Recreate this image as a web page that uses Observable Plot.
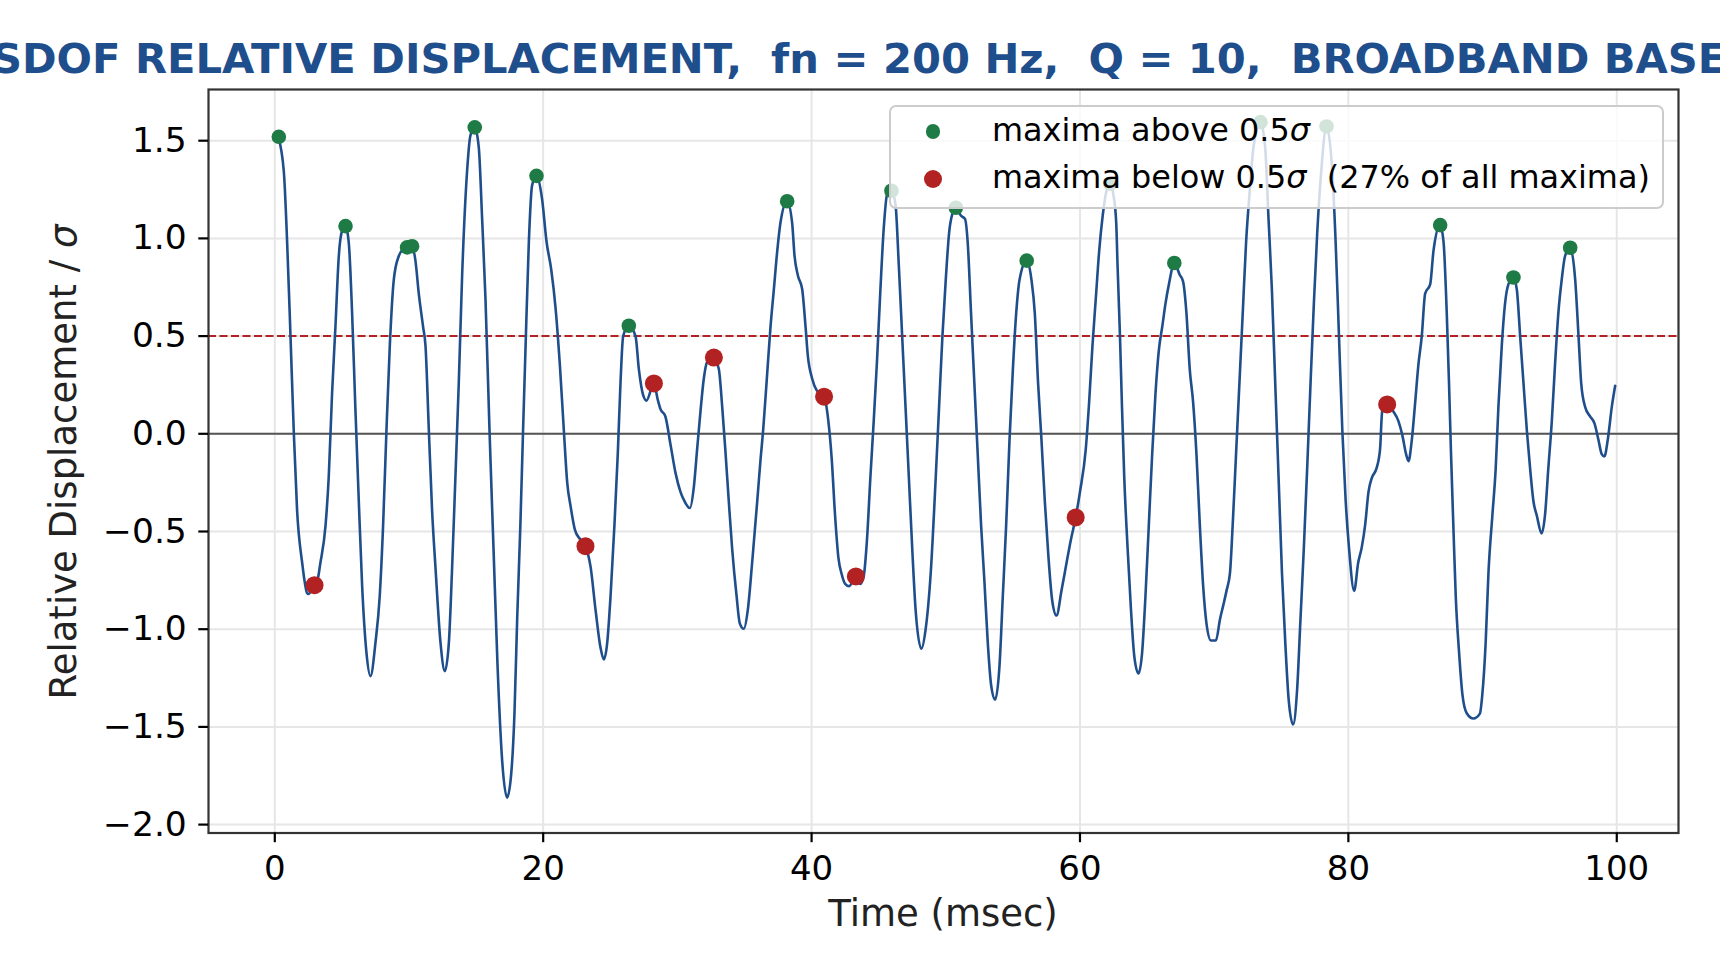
<!DOCTYPE html>
<html>
<head>
<meta charset="utf-8">
<script src="https://cdn.jsdelivr.net/npm/d3@7"></script>
<script src="https://cdn.jsdelivr.net/npm/@observablehq/plot@0.6"></script>
<style>
  html, body { margin: 0; padding: 0; background: white; }
  #fig { position: relative; width: 1720px; height: 980px; overflow: hidden; background: white; font-family: "DejaVu Sans", sans-serif; }
  #title { position: absolute; left: 938px; top: 34px; transform: translateX(-50%); white-space: pre; font-weight: bold; font-size: 41.7px; line-height: normal; color: #1f4e8c; }
  #ylabel { position: absolute; left: 62.5px; top: 461.5px; transform: translate(-50%, -50%) rotate(-90deg); white-space: pre; font-size: 37px; line-height: normal; color: #222; }
  #xlabel { position: absolute; left: 943px; top: 892px; transform: translateX(-50%); white-space: pre; font-size: 37px; line-height: normal; color: #222; }
  #legend { position: absolute; left: 889px; top: 105px; width: 775px; height: 104px; box-sizing: border-box; border: 2px solid #cccccc; border-radius: 7px; background: rgba(255,255,255,0.8); }
  .lrow { position: absolute; white-space: pre; font-size: 31.9px; line-height: normal; color: #000; }
  .lmark { position: absolute; border-radius: 50%; }
</style>
</head>
<body>
<div id="fig">
  <div id="title"></div>
  <div id="ylabel"></div>
  <div id="xlabel"></div>
</div>
<script>
// ---- data ----
const titleText = "SDOF RELATIVE DISPLACEMENT,  fn = 200 Hz,  Q = 10,  BROADBAND BASE INPUT";
const xLabelText = "Time (msec)";
const yLabelText = "Relative Displacement / ";
const legendAbove = "maxima above 0.5";
const legendBelow = "maxima below 0.5";
const legendBelowNote = "  (27% of all maxima)";

const xTicks = [0, 20, 40, 60, 80, 100];
const yTicks = [-2.0, -1.5, -1.0, -0.5, 0.0, 0.5, 1.0, 1.5];
const threshold = 0.5;

const timeMs = [
  0.25,0.67,0.92,1.17,1.42,1.66,2.04,2.41,2.5,2.96,3.1,3.4,3.78,4.02,4.27,4.52,4.77,5.02,5.27,5.51,
  5.76,6.0,6.26,6.51,6.83,7.13,7.5,7.82,8.07,8.32,8.57,8.87,9.24,9.61,9.86,10.05,10.23,10.48,10.73,11.05,
  11.23,11.48,11.72,11.97,12.35,12.67,12.97,13.2,13.46,13.71,13.96,14.33,14.58,14.9,15.2,15.45,15.7,16.0,16.3,16.6,
  16.94,17.31,17.61,17.86,18.06,18.3,18.5,18.68,18.93,19.17,19.5,19.92,20.25,20.6,20.92,21.24,21.54,21.79,22.04,22.36,
  22.75,23.15,23.53,23.9,24.27,24.52,24.77,25.02,25.31,25.56,25.76,25.96,26.38,26.88,27.13,27.45,27.7,28.25,28.54,28.74,
  29.1,29.49,29.86,30.23,30.53,30.93,31.23,31.47,31.72,31.97,32.22,32.72,33.09,33.34,33.59,33.83,34.08,34.41,34.65,34.95,
  35.25,35.57,35.95,36.2,36.39,36.69,36.94,37.19,37.44,37.68,38.18,38.55,38.73,38.98,39.3,39.55,39.72,40.04,40.38,40.93,
  41.25,41.5,41.75,42.0,42.25,42.5,42.8,43.3,43.63,43.88,44.13,44.38,44.63,44.88,45.13,45.38,45.63,45.95,46.25,46.5,
  46.75,47.0,47.25,47.5,47.75,48.18,48.5,48.88,49.25,49.5,49.75,50.0,50.25,50.5,50.75,51.13,51.43,51.63,51.88,52.13,
  52.38,52.63,52.88,53.13,53.38,53.68,54.0,54.25,54.5,54.75,55.0,55.25,55.5,56.03,56.38,56.63,56.88,57.13,57.38,57.63,
  57.93,58.25,58.63,59.0,59.33,59.68,60.0,60.43,60.68,60.93,61.18,61.43,61.7,62.0,62.25,62.5,62.7,62.8,62.98,63.13,
  63.3,63.55,63.8,64.05,64.36,64.63,64.88,65.13,65.38,65.63,65.88,66.13,66.38,66.63,67.03,67.43,67.68,67.93,68.18,68.43,
  68.68,68.93,69.18,69.43,69.76,70.13,70.43,70.68,70.93,71.18,71.38,71.63,71.88,72.13,72.38,72.63,72.93,73.45,73.8,74.05,
  74.3,74.55,74.8,75.05,75.3,75.55,75.88,76.18,76.43,76.68,76.93,77.18,77.43,77.68,77.98,78.37,78.8,79.05,79.3,79.55,
  79.8,80.05,80.43,80.73,81.0,81.25,81.5,81.75,82.1,82.36,82.52,82.89,83.35,83.73,84.02,84.3,84.48,84.73,84.98,85.22,
  85.47,85.72,86.1,86.34,86.84,87.09,87.33,87.5,87.65,87.82,88.0,88.25,88.5,88.82,89.32,89.8,89.98,90.23,90.44,90.73,
  90.98,91.18,91.43,91.68,91.93,92.3,92.55,92.8,93.05,93.3,93.54,93.79,94.04,94.4,94.65,94.9,95.16,95.4,95.65,95.9,
  96.15,96.53,96.9,97.15,97.35,97.64,98.0,98.34,98.63,98.88,99.08,99.33,99.63,99.88
];
const displacement = [
  1.52,1.345,0.98,0.5,0.0,-0.39,-0.66,-0.816,-0.82,-0.775,-0.77,-0.66,-0.47,-0.22,0.21,0.55,0.91,1.04,1.063,0.98,
  0.62,0.14,-0.345,-0.78,-1.12,-1.24,-1.07,-0.83,-0.47,0.017,0.45,0.79,0.91,0.947,0.954,0.948,0.96,0.886,0.717,0.548,
  0.45,0.017,-0.39,-0.68,-1.07,-1.215,-1.07,-0.71,-0.22,0.26,0.81,1.345,1.527,1.568,1.466,1.10,0.69,0.017,-0.59,-1.19,
  -1.67,-1.862,-1.746,-1.43,-0.95,-0.466,0.017,0.43,0.98,1.27,1.32,1.20,0.983,0.84,0.645,0.355,0.017,-0.25,-0.37,-0.49,
  -0.54,-0.575,-0.68,-0.90,-1.094,-1.155,-1.07,-0.83,-0.466,-0.10,0.26,0.50,0.553,0.50,0.33,0.198,0.17,0.258,0.174,0.126,
  0.09,-0.056,-0.2,-0.297,-0.345,-0.38,-0.27,-0.08,0.114,0.283,0.367,0.39,0.33,0.138,-0.10,-0.345,-0.587,-0.83,-0.97,-0.998,
  -0.90,-0.66,-0.345,-0.128,0.017,0.307,0.548,0.74,0.935,1.08,1.19,1.08,0.91,0.81,0.74,0.548,0.40,0.283,0.222,0.19,
  0.065,-0.128,-0.418,-0.635,-0.72,-0.768,-0.78,-0.73,-0.768,-0.73,-0.54,-0.225,0.065,0.38,0.74,1.055,1.225,1.244,1.176,0.862,
  0.5,0.138,-0.225,-0.587,-0.90,-1.10,-1.0,-0.71,-0.225,0.138,0.50,0.79,1.03,1.128,1.157,1.116,1.10,0.983,0.62,0.258,
  -0.104,-0.466,-0.756,-1.07,-1.287,-1.36,-1.19,-0.83,-0.466,-0.03,0.33,0.62,0.79,0.886,0.79,0.62,0.258,-0.03,-0.345,-0.61,
  -0.853,-0.93,-0.80,-0.66,-0.54,-0.428,-0.297,-0.08,0.16,0.45,0.693,0.935,1.12,1.25,1.28,1.22,1.08,0.862,0.50,0.138,
  -0.225,-0.587,-0.90,-1.14,-1.227,-1.12,-0.83,-0.466,-0.104,0.21,0.43,0.548,0.67,0.766,0.874,0.814,0.78,0.62,0.33,0.162,
  -0.104,-0.466,-0.78,-0.973,-1.058,-1.058,-0.95,-0.877,-0.80,-0.71,-0.466,-0.104,0.258,0.62,0.983,1.225,1.466,1.595,1.466,1.10,
  0.74,0.258,-0.225,-0.71,-1.07,-1.36,-1.488,-1.31,-0.95,-0.587,-0.176,0.258,0.67,1.03,1.345,1.573,1.345,0.983,0.50,0.017,
  -0.345,-0.587,-0.804,-0.66,-0.58,-0.466,-0.297,-0.225,-0.176,-0.08,0.114,0.15,0.114,0.065,-0.007,-0.104,-0.14,-0.03,0.162,0.355,
  0.50,0.717,0.766,0.935,1.068,0.983,0.62,0.258,-0.104,-0.466,-0.83,-1.12,-1.335,-1.43,-1.457,-1.432,-1.335,-1.07,-0.71,-0.418,
  -0.176,0.138,0.45,0.67,0.766,0.80,0.74,0.50,0.258,0.017,-0.176,-0.345,-0.418,-0.51,-0.418,-0.176,0.065,0.355,0.62,0.79,
  0.91,0.952,0.79,0.5,0.258,0.138,0.09,0.053,-0.03,-0.104,-0.116,-0.03,0.138,0.246
];

const aboveTime  = [0.3, 5.27, 9.86, 10.23, 14.9, 19.5, 26.38, 38.18, 45.95, 50.75, 56.03, 62.25, 67.03, 73.45, 78.37, 86.84, 92.3, 96.53];
const aboveValue = [1.52, 1.063, 0.954, 0.96, 1.568, 1.32, 0.553, 1.19, 1.244, 1.157, 0.886, 1.28, 0.874, 1.595, 1.573, 1.068, 0.80, 0.952];
const belowTime  = [2.96, 23.15, 28.25, 32.72, 40.93, 43.3, 59.68, 82.89];
const belowValue = [-0.775, -0.575, 0.258, 0.39, 0.19, -0.73, -0.428, 0.15];

// ---- colours ----
const lineColor = "#1f4e8c";
const greenColor = "#1e7b45";
const redColor = "#b22222";

// ---- build ----
const series = timeMs.map((t, i) => ({t, v: displacement[i]}));
const above = aboveTime.map((t, i) => ({t, v: aboveValue[i]}));
const below = belowTime.map((t, i) => ({t, v: belowValue[i]}));

const chart = Plot.plot({
  width: 1720,
  height: 900,
  marginLeft: 208,
  marginRight: 42,
  marginTop: 9,
  marginBottom: 147.5,
  x: {domain: [-4.94, 104.6]},
  y: {domain: [-2.043, 1.762]},
  style: {fontFamily: "DejaVu Sans", background: "white", color: "black"},
  marks: [
    Plot.gridX(xTicks, {stroke: "#e6e6e6", strokeOpacity: 1, strokeWidth: 2}),
    Plot.gridY(yTicks, {stroke: "#e6e6e6", strokeOpacity: 1, strokeWidth: 2}),
    Plot.ruleY([0], {stroke: "#555555", strokeWidth: 2}),
    Plot.ruleY([threshold], {stroke: redColor, strokeWidth: 2, strokeDasharray: "8,3.5"}),
    Plot.line(series, {x: "t", y: "v", stroke: lineColor, strokeWidth: 2.6, curve: "monotone-x"}),
    Plot.dot(above, {x: "t", y: "v", r: 7.3, fill: greenColor, stroke: "none"}),
    Plot.dot(below, {x: "t", y: "v", r: 9, fill: redColor, stroke: "none"}),
    Plot.frame({stroke: "#333333", strokeWidth: 2.2}),
    Plot.axisX(xTicks, {tickSize: 9.7, tickPadding: 13, fontSize: 34, strokeWidth: 2.2, label: null, tickFormat: d3.format("d"), color: "black"}),
    Plot.axisY(yTicks, {tickSize: 9.7, tickPadding: 12, fontSize: 34.5, strokeWidth: 2.2, label: null, tickFormat: d3.format(".1f"), color: "black"})
  ]
});
chart.style.position = "absolute";
chart.style.left = "0px";
chart.style.top = "80px";
const fig = document.getElementById("fig");
fig.insertBefore(chart, fig.firstChild);

document.getElementById("title").textContent = titleText;
document.getElementById("xlabel").textContent = xLabelText;
const yl = document.getElementById("ylabel");
yl.textContent = yLabelText;
const sig = document.createElement("i");
sig.textContent = "σ";
yl.appendChild(sig);

// legend
const legend = document.createElement("div");
legend.id = "legend";
fig.appendChild(legend);
function addRow(color, r, centerY, label, note) {
  const m = document.createElement("div");
  m.className = "lmark";
  m.style.background = color;
  m.style.width = (2 * r) + "px";
  m.style.height = (2 * r) + "px";
  m.style.left = (933 - 889 - 2 - r) + "px";
  m.style.top = (centerY - 105 - 2 - r) + "px";
  legend.appendChild(m);
  const row = document.createElement("div");
  row.className = "lrow";
  row.style.top = (centerY + 8.7 - 29.6 - 105 - 2) + "px";
  row.style.left = (992 - 889 - 2) + "px";
  row.appendChild(document.createTextNode(label));
  const s = document.createElement("i");
  s.textContent = "σ";
  row.appendChild(s);
  if (note) row.appendChild(document.createTextNode(note));
  legend.appendChild(row);
}
addRow(greenColor, 7.3, 131.7, legendAbove, "");
addRow(redColor, 9, 179.3, legendBelow, legendBelowNote);
</script>
</body>
</html>
